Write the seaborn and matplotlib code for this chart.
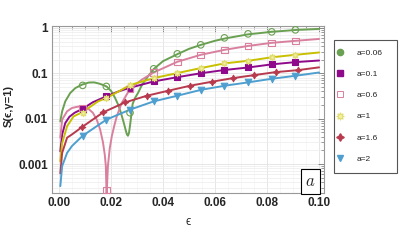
import matplotlib
matplotlib.use("Agg")
import matplotlib.pyplot as plt
import seaborn as sns
import pandas as pd
from matplotlib.lines import Line2D
from matplotlib.patches import Rectangle
from matplotlib.ticker import FixedLocator, MultipleLocator, NullFormatter

# --- values (eps, S) ---
g_eps = [0.0005, 0.0012, 0.0024, 0.0043, 0.0063, 0.0088, 0.0114, 0.0135, 0.0155, 0.0170,
         0.0183, 0.0200, 0.0215, 0.0228, 0.0238, 0.0248, 0.0256, 0.0261, 0.0265, 0.0269,
         0.0273, 0.0278, 0.0283, 0.0293, 0.0304, 0.0320, 0.0342, 0.0365, 0.0400, 0.0458,
         0.0500, 0.0546, 0.0600, 0.0642, 0.0727, 0.0819, 0.0912, 0.1000]
g_S = [0.0087, 0.0145, 0.024, 0.0367, 0.0473, 0.056, 0.0625, 0.063, 0.059, 0.055,
       0.051, 0.041, 0.029, 0.020, 0.0135, 0.0085, 0.0057, 0.0045, 0.0042, 0.0048,
       0.0070, 0.0120, 0.021, 0.029, 0.037, 0.057, 0.085, 0.125, 0.185, 0.268,
       0.345, 0.423, 0.52, 0.59, 0.72, 0.82, 0.90, 0.95]

p_eps = [0.0005, 0.0012, 0.0031, 0.0050, 0.0073, 0.0092, 0.0110, 0.0130, 0.0145, 0.0158,
         0.0169, 0.0176, 0.0180, 0.0183, 0.0186, 0.0188, 0.0195, 0.0203, 0.0212, 0.0222,
         0.0241, 0.0273, 0.0318, 0.0364, 0.0455, 0.0545, 0.0636, 0.0727, 0.0818, 0.0909, 0.1000]
p_S = [0.0038, 0.0095, 0.0145, 0.0172, 0.0184, 0.0186, 0.0170, 0.0135, 0.0095, 0.0058,
       0.0030, 0.0016, 0.0009, 0.0002, 0.0005, 0.0009, 0.0022, 0.0041, 0.0068, 0.0112,
       0.0221, 0.045, 0.072, 0.104, 0.179, 0.255, 0.328, 0.40, 0.468, 0.518, 0.57]

u_eps = [0.0005, 0.0012, 0.0024, 0.0040, 0.0060, 0.0091, 0.0130, 0.0182, 0.0230, 0.0273,
         0.0364, 0.0455, 0.0545, 0.0636, 0.0727, 0.0818, 0.0909, 0.1000]
u_S = [0.0019, 0.0045, 0.0080, 0.0110, 0.0135, 0.0165, 0.023, 0.031, 0.040, 0.048,
       0.066, 0.082, 0.100, 0.118, 0.134, 0.157, 0.176, 0.191]

y_eps = [0.0005, 0.0012, 0.0031, 0.0056, 0.0091, 0.0150, 0.0182, 0.0230, 0.0273, 0.0364,
         0.0455, 0.0545, 0.0636, 0.0727, 0.0818, 0.0909, 0.1000]
y_S = [0.00115, 0.0029, 0.0068, 0.0112, 0.0140, 0.024, 0.0285, 0.040, 0.055, 0.078,
       0.101, 0.130, 0.165, 0.188, 0.225, 0.255, 0.287]

r_eps = [0.0005, 0.0012, 0.0031, 0.0050, 0.0088, 0.0170, 0.0254, 0.0338, 0.0420, 0.0504,
         0.0587, 0.0668, 0.0750, 0.0833, 0.0918, 0.1000]
r_S = [0.00062, 0.00176, 0.0038, 0.0045, 0.0065, 0.0138, 0.0228, 0.032, 0.0412, 0.0531,
       0.065, 0.078, 0.091, 0.106, 0.117, 0.135]

b_eps = [0.0005, 0.0012, 0.0031, 0.0050, 0.0091, 0.0182, 0.0273, 0.0364, 0.0455, 0.0545,
         0.0636, 0.0727, 0.0818, 0.0909, 0.1000]
b_S = [0.000325, 0.0009, 0.00176, 0.0025, 0.0042, 0.0095, 0.0158, 0.024, 0.032, 0.043,
       0.053, 0.063, 0.0756, 0.088, 0.104]

# marker positions
mark_eps = [0.0091, 0.0182, 0.0273, 0.0364, 0.0455, 0.0545, 0.0636, 0.0727, 0.0818, 0.0909]
g_mark = [0.054, 0.0513, 0.0135, 0.1255, 0.268, 0.423, 0.603, 0.738, 0.817, 0.904]
p_mark = [0.017, 0.00027, 0.045, 0.104, 0.179, 0.255, 0.328, 0.40, 0.468, 0.518]
u_mark = [0.0165, 0.031, 0.048, 0.066, 0.082, 0.100, 0.118, 0.134, 0.157, 0.176]
y_mark = [0.0135, 0.0285, 0.056, 0.078, 0.101, 0.130, 0.167, 0.188, 0.227, 0.255]
b_mark = [0.0042, 0.0095, 0.0158, 0.024, 0.032, 0.0434, 0.053, 0.063, 0.0756, 0.088]
r_mark_eps = [0.0088, 0.0170, 0.0254, 0.0338, 0.0420, 0.0504, 0.0587, 0.0668, 0.0750, 0.0833, 0.0918]
r_mark = [0.0065, 0.0138, 0.0228, 0.032, 0.0412, 0.0531, 0.065, 0.078, 0.091, 0.106, 0.117]

labels = ["a=0.06", "a=0.1", "a=0.6", "a=1", "a=1.6", "a=2"]
colors = ["#6aa052", "#8e0a8a", "#d9809f", "#c8c000", "#b83a4e", "#4e9fd0"]

sns.set_theme(style="white")
plt.rcParams['font.family'] = ['Liberation Sans', 'DejaVu Sans']
plt.rcParams['mathtext.fontset'] = 'cm'

curves = [(g_eps, g_S), (u_eps, u_S), (p_eps, p_S), (y_eps, y_S), (r_eps, r_S), (b_eps, b_S)]
frames = []
for lab, (e, s) in zip(labels, curves):
    frames.append(pd.DataFrame({"eps": e, "S": s, "curve": lab}))
df = pd.concat(frames, ignore_index=True)

fig = plt.figure(figsize=(3.99, 2.49), dpi=100)
ax = fig.add_axes([52 / 399, 56 / 249, 272 / 399, 167 / 249])

sns.lineplot(data=df, x="eps", y="S", hue="curve", palette=dict(zip(labels, colors)),
             estimator=None, sort=False, legend=False, linewidth=1.4, ax=ax)

# markers
mk = [
    (mark_eps, g_mark, "o", "none", colors[0]),
    (mark_eps, u_mark, "s", colors[1], colors[1]),
    (mark_eps, p_mark, "s", "none", colors[2]),
    (mark_eps, y_mark, (8, 1, 0), "#f3f0a0", "#e0dc70"),
    (r_mark_eps, r_mark, (4, 1, 0), colors[4], colors[4]),
    (mark_eps, b_mark, "v", colors[5], colors[5]),
]
for e, s, m, fc, ec in mk:
    sns.scatterplot(x=e, y=s, marker=m, s=22, facecolor=fc, edgecolor=ec,
                    linewidth=0.8, ax=ax, zorder=4, clip_on=False)

ax.set_yscale("log")
ax.set_xlim(-0.0027, 0.1019)
ax.set_ylim(2.3e-4, 1.1)

ax.yaxis.set_major_locator(FixedLocator([0.001, 0.01, 0.1, 1]))
ax.set_yticks([0.001, 0.01, 0.1, 1])
ax.set_yticklabels(["0.001", "0.01", "0.1", "1"])
ax.yaxis.set_minor_formatter(NullFormatter())
ax.set_xticks([0.0, 0.02, 0.04, 0.06, 0.08, 0.10])
ax.set_xticklabels(["0.00", "0.02", "0.04", "0.06", "0.08", "0.10"])
ax.xaxis.set_minor_locator(MultipleLocator(0.005))

for t in ax.get_xticklabels() + ax.get_yticklabels():
    t.set_fontweight("bold")
    t.set_fontsize(8.5)

ax.tick_params(which="both", direction="in", top=True, right=True, color="#777777")
ax.tick_params(which="major", length=4, width=0.6, pad=3)
ax.tick_params(which="minor", length=2, width=0.5)

ax.grid(True, which="major", color="#e2e2e2", linewidth=0.6)
ax.grid(True, which="minor", axis="y", color="#ececec", linewidth=0.5)
ax.grid(True, which="minor", axis="x", color="#f2f2f2", linewidth=0.4)
ax.set_axisbelow(True)
for sp in ax.spines.values():
    sp.set_color("#999999")
    sp.set_linewidth(0.8)

ax.set_xlabel("")
ax.set_ylabel("")
fig.text(188 / 399, 1 - 222 / 249, "\u03f5", fontsize=8.5, ha="center", va="center")
fig.text(9 / 399, 1 - 106 / 249, "S(\u03f5,\u03b3=1)", fontsize=8, fontweight="bold",
         rotation=90, ha="center", va="center")

ax.text(0.950, 0.069, "$a$", transform=ax.transAxes, fontsize=12, ha="center", va="center",
        bbox=dict(boxstyle="square,pad=0.28", fc="white", ec="black", lw=0.8), zorder=6)

# legend: frameless legend plus a drawn box
handles = [
    Line2D([], [], ls="none", marker="o", ms=4.5, mfc=colors[0], mec=colors[0]),
    Line2D([], [], ls="none", marker="s", ms=4, mfc=colors[1], mec=colors[1]),
    Line2D([], [], ls="none", marker="s", ms=4, mfc="none", mec=colors[2], mew=0.7),
    Line2D([], [], ls="none", marker=(8, 1, 0), ms=5.5, mfc="#f3f0a0", mec="#e0dc70", mew=0.7),
    Line2D([], [], ls="none", marker=(4, 1, 0), ms=5.5, mfc=colors[4], mec=colors[4]),
    Line2D([], [], ls="none", marker="v", ms=4.5, mfc=colors[5], mec=colors[5]),
]
fig.legend(handles, labels, loc="upper left", bbox_to_anchor=(334 / 399, 1 - 45 / 249),
           fontsize=6, frameon=False, labelspacing=1.6, handlelength=0.4,
           handletextpad=1.85, borderpad=0.5, borderaxespad=0.0)
fig.patches.append(Rectangle((334 / 399, 1 - 173 / 249), 63 / 399, 133 / 249,
                             transform=fig.transFigure, fill=False, ec="#555555", lw=0.8))

fig.savefig("out.png", dpi=100)
